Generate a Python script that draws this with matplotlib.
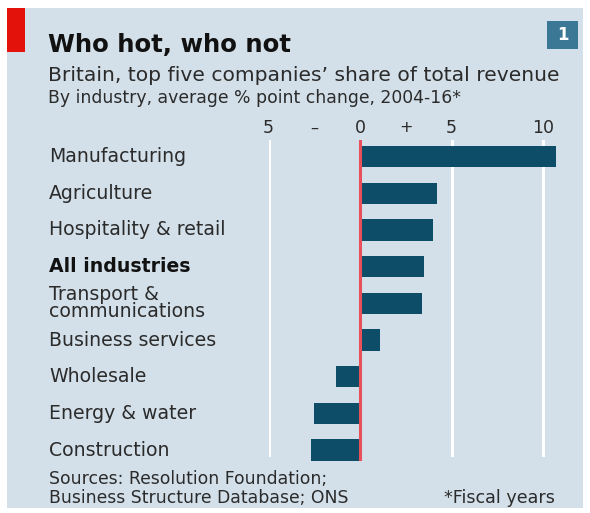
import matplotlib
matplotlib.use("Agg")
import matplotlib.pyplot as plt
from matplotlib.patches import Rectangle
from matplotlib.transforms import blended_transform_factory

plt.rcParams['font.family'] = ['DejaVu Sans']

# Data: average percentage-point change, 2004-16
industries = [
    "Manufacturing", "Agriculture", "Hospitality & retail", "All industries",
    "Transport &\ncommunications", "Business services", "Wholesale",
    "Energy & water", "Construction",
]
changes = [10.7, 4.2, 4.0, 3.5, 3.4, 1.1, -1.3, -2.5, -2.7]
tick_values = [-5, 0, 5, 10]
tick_labels = ["5", "0", "5", "10"]
sign_values = [-2.5, 2.5]
sign_labels = ["\u2013", "+"]

W, H = 590, 513
fig = plt.figure(figsize=(W / 100, H / 100), dpi=100)
fig.patch.set_facecolor("white")

BG = "#d3e0e9"
BAR = "#0e4d68"
RED = "#e3120b"
TXT = "#2b2b2b"

def px(x, y):
    return x / W, 1 - y / H

# panel background
fig.patches.append(Rectangle(px(7, 508), (583 - 7) / W, (508 - 8) / H,
                             transform=fig.transFigure, facecolor=BG,
                             edgecolor="none", zorder=0))
# red tag
fig.patches.append(Rectangle(px(7, 52), 18 / W, 44 / H,
                             transform=fig.transFigure, facecolor=RED,
                             edgecolor="none", zorder=1))
# chart number box
fig.patches.append(Rectangle(px(547, 49), 31 / W, 28 / H,
                             transform=fig.transFigure, facecolor="#3b7896",
                             edgecolor="none", zorder=1))
fig.text(*px(562.5, 35), "1", color="white", fontsize=12, fontweight="bold",
         ha="center", va="center")

fig.text(*px(48, 52), "Who hot, who not", fontsize=17.6, fontweight="bold",
         color="#111111", ha="left", va="baseline")
fig.text(*px(48, 81), "Britain, top five companies\u2019 share of total revenue",
         fontsize=14.6, color=TXT, ha="left", va="baseline")
fig.text(*px(48, 103), "By industry, average % point change, 2004-16*",
         fontsize=12.4, color=TXT, ha="left", va="baseline")

# bar chart axes: zero at x=360px, 18.3px per unit
x0, scale = 360.0, 18.3
xmin, xmax = -5.0, 12.0
ax_left = x0 + xmin * scale
ax_right = x0 + xmax * scale
ax_top, ax_bot = 140.0, 461.0
ax = fig.add_axes([ax_left / W, 1 - ax_bot / H, (ax_right - ax_left) / W,
                   (ax_bot - ax_top) / H])
ax.set_zorder(3)
ax.set_facecolor("none")
ax.set_xlim(xmin, xmax)
row0, step = 156.5, 36.7
ax.set_ylim(8 + (ax_bot - (row0 + 8 * step)) / step, -(row0 - ax_top) / step)
for s in ax.spines.values():
    s.set_visible(False)
ax.set_xticks([])
ax.set_yticks([])

for v in tick_values:
    if v != 0:
        ax.axvline(v, ymin=0.02, ymax=1, color="white", lw=2.2, zorder=1)

ypos = list(range(len(industries)))
ax.barh(ypos, changes, height=0.58, color=BAR, left=0, zorder=2)
ax.axvline(0, color="#e8505b", lw=2.2, zorder=3)

trans = blended_transform_factory(ax.transData, fig.transFigure)
for v, lab in zip(tick_values, tick_labels):
    ax.text(v, 1 - 128 / H, lab, transform=trans, ha="center", va="center",
            fontsize=12.5, color=TXT, clip_on=False)
for v, lab in zip(sign_values, sign_labels):
    ax.text(v, 1 - 128 / H, lab, transform=trans, ha="center", va="center",
            fontsize=11.5, color=TXT, clip_on=False)

ytrans = blended_transform_factory(fig.transFigure, ax.transData)
for i, name in enumerate(industries):
    bold = name == "All industries"
    ax.text(49 / W, i, name, transform=ytrans, ha="left", va="center",
            fontsize=13.6, color="#111111" if bold else TXT,
            fontweight="bold" if bold else "normal", linespacing=0.85,
            clip_on=False)

fig.text(*px(49, 484), "Sources: Resolution Foundation;", fontsize=12.4,
         color=TXT, ha="left", va="baseline")
fig.text(*px(49, 503), "Business Structure Database; ONS", fontsize=12.4,
         color=TXT, ha="left", va="baseline")
fig.text(*px(555, 503), "*Fiscal years", fontsize=12.6, color=TXT,
         ha="right", va="baseline")

fig.savefig("out.png", dpi=100, facecolor="white")
